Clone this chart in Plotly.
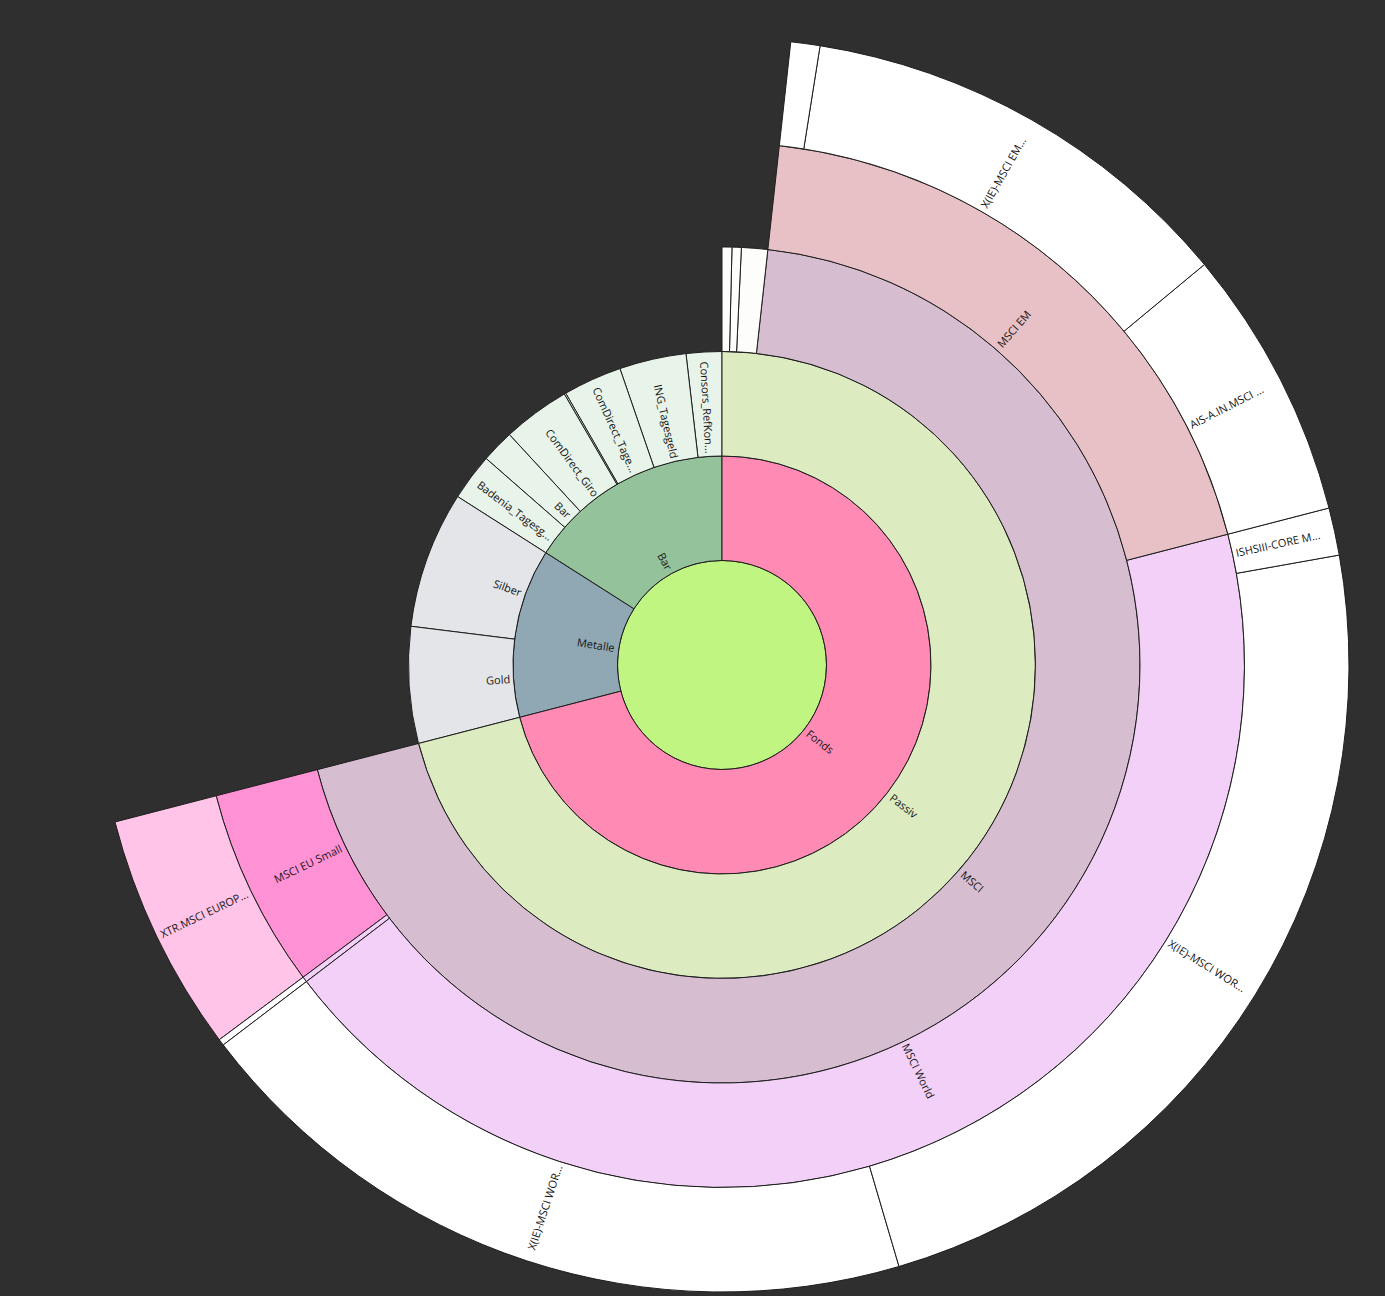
import math
import plotly.graph_objects as go

# ---- data (listed clockwise from 12 o'clock) ----
node_ids = ["root", "Fonds", "Metalle", "Bar",
            "Passiv", "P_a", "P_b", "P_c", "MSCI",
            "MSCI EM", "MSCI World", "MSCI_x", "MSCI EU Small",
            "EM_a", "X(IE)-MSCI EM", "AIS-A.IN.MSCI",
            "ISHSIII-CORE M", "X(IE)-MSCI WOR 1", "X(IE)-MSCI WOR 2",
            "MSCI_x_a", "XTR.MSCI EUROP",
            "Gold", "Silber",
            "Badenia_Tagesg", "Bar_Bar", "ComDirect_Giro", "ComDirect_x", "ComDirect_Tage",
            "ING_Tagesgeld", "Consors_RefKon"]
node_labels = ["", "Fonds", "Metalle", "Bar",
               "Passiv", "", "", "", "MSCI",
               "MSCI EM", "MSCI World", "", "MSCI EU Small",
               "", "X(IE)-MSCI EM...", "AIS-A.IN.MSCI ...",
               "ISHSIII-CORE M...", "X(IE)-MSCI WOR...", "X(IE)-MSCI WOR...",
               "", "XTR.MSCI EUROP...",
               "Gold", "Silber",
               "Badenia_Tagesg...", "Bar", "ComDirect_Giro", "", "ComDirect_Tage...",
               "ING_Tagesgeld", "Consors_RefKon..."]
node_parents = ["", "root", "root", "root",
                "Fonds", "Passiv", "Passiv", "Passiv", "Passiv",
                "MSCI", "MSCI", "MSCI", "MSCI",
                "MSCI EM", "MSCI EM", "MSCI EM",
                "MSCI World", "MSCI World", "MSCI World",
                "MSCI_x", "MSCI EU Small",
                "Metalle", "Metalle",
                "Bar", "Bar", "Bar", "Bar", "Bar",
                "Bar", "Bar"]
# leaf values (share of the whole); branches carry 0
node_values = [0, 0, 0, 0,
               0, 1.37, 1.29, 3.64, 0,
               0, 0, 0, 0,
               2.7, 41.3, 25.2,
               4.4, 83.7, 69.1,
               0.6, 22.2,
               21.6, 25.4,
               8.7, 6.1, 12.5, 0.3, 10.9,
               12.4, 6.6]
node_colors = ["#c1f582", "#ff8ab4", "#8fa8b4", "#93c29b",
               "#dcebc0", "#fdfdfb", "#fdfdfb", "#fdfdfb", "#d6bdd0",
               "#e8c1c6", "#f2d0f7", "#f2d0f7", "#ff91d5",
               "#ffffff", "#ffffff", "#ffffff",
               "#ffffff", "#ffffff", "#ffffff",
               "#ffffff", "#ffc4e8",
               "#e4e5e8", "#e4e5e8",
               "#e8f3ea", "#e8f3ea", "#e8f3ea", "#e8f3ea", "#e8f3ea",
               "#e8f3ea", "#e8f3ea"]

# ---- layout geometry ----
W, H = 1385, 1296
M_L, M_R, M_T, M_B = 95, 36, 38, 4          # square plot area -> sunburst fills it
R_PX = (H - M_T - M_B) / 2.0

# ---- derived: subtree sizes, depth and mid angle of each node ----
children = {i: [] for i in node_ids}
for i, p in zip(node_ids, node_parents):
    if p:
        children[p].append(i)
val = dict(zip(node_ids, node_values))


def total(n):
    return val[n] + sum(total(c) for c in children[n])


tot = total("root")
mid, depth = {}, {"root": 0}


def place(n, start):
    a = start
    for c in children[n]:
        s = total(c) / tot * 360.0
        mid[c] = a + s / 2
        depth[c] = depth[n] + 1
        place(c, a)
        a += s


place("root", 0.0)


def max_depth(n):
    return 0 if not children[n] else 1 + max(max_depth(c) for c in children[n])


LEVELS = max_depth("root") + 1
RING_PX = R_PX / LEVELS


def est_width(s):
    w = 0.0
    for ch in s:
        if ch in "iIl.,:;'|!j":
            w += 2.7
        elif ch in "()":
            w += 3.3
        elif ch == "-":
            w += 3.5
        elif ch == " ":
            w += 2.9
        elif ch == "_":
            w += 5.0
        elif ch in "rtf":
            w += 4.0
        elif ch in "sc":
            w += 5.1
        elif ch in "mwMW":
            w += 9.5
        elif ch.isupper():
            w += 6.8
        else:
            w += 6.0
    return w


# labels: radial, starting just outside the inner edge of each ring
annotations = []
for i, lab in zip(node_ids, node_labels):
    if not lab:
        continue
    th = mid[i] % 360
    r_px = depth[i] * RING_PX + 5 + est_width(lab) / 2
    rr = r_px / (2 * R_PX)                   # in paper units (plot area is square)
    x = 0.5 + rr * math.sin(math.radians(th))
    y = 0.5 + rr * math.cos(math.radians(th))
    ang = th - 90 if th < 180 else th - 270
    annotations.append(dict(
        x=x, y=y, xref="paper", yref="paper", text=lab, showarrow=False,
        textangle=ang, xanchor="center", yanchor="middle",
        font=dict(family="Open Sans, Noto Sans, sans-serif", size=11, color="#151515"),
    ))

# plotly lays siblings out counterclockwise, so feed them in reverse order
rev = lambda seq: list(seq)[::-1]

fig = go.Figure(go.Sunburst(
    ids=rev(node_ids),
    labels=rev(node_labels),
    parents=rev(node_parents),
    values=rev(node_values),
    branchvalues="remainder",
    sort=False,
    rotation=90,
    textinfo="none",
    marker=dict(colors=rev(node_colors), line=dict(color="#1e1e1e", width=1)),
    leaf=dict(opacity=1),
    hoverinfo="none",
))
fig.update_layout(
    width=W, height=H,
    paper_bgcolor="#2f2f2f",
    plot_bgcolor="#2f2f2f",
    margin=dict(l=M_L, r=M_R, t=M_T, b=M_B),
    annotations=annotations,
    showlegend=False,
)
fig.write_html(
    "out.html",
    config={"displayModeBar": False},
    post_script="document.body.style.margin='0';document.body.style.background='#2f2f2f';document.body.style.overflow='hidden';",
)
